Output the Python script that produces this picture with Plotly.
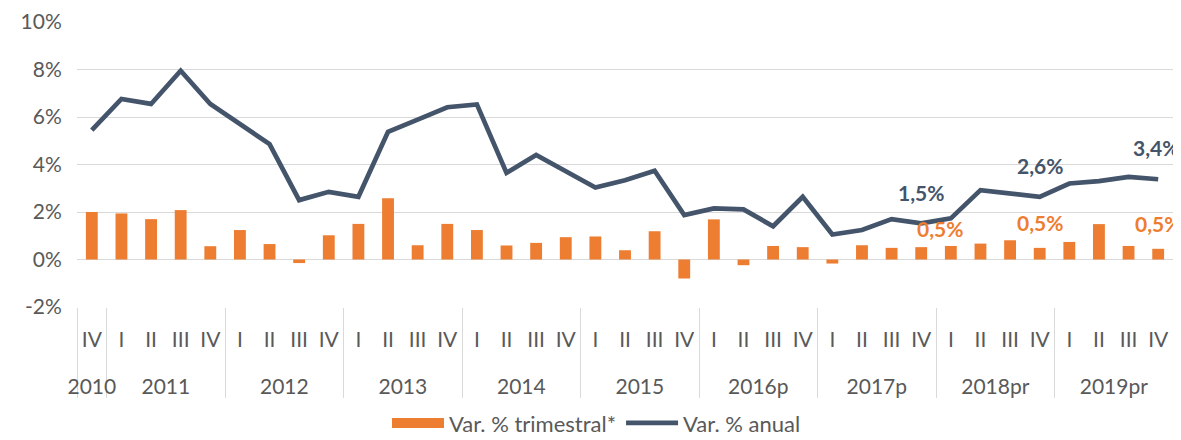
import plotly.graph_objects as go

years = ["2010"] + ["2011"] * 4 + ["2012"] * 4 + ["2013"] * 4 + ["2014"] * 4 + ["2015"] * 4 \
    + ["2016p"] * 4 + ["2017p"] * 4 + ["2018pr"] * 4 + ["2019pr"] * 4
quarters = ["IV"] + ["I", "II", "III", "IV"] * 9

var_trimestral = [2.00, 1.94, 1.70, 2.08, 0.56, 1.24, 0.65, -0.15, 1.02, 1.50,
                  2.58, 0.60, 1.50, 1.24, 0.59, 0.70, 0.94, 0.97, 0.39, 1.19,
                  -0.80, 1.69, -0.24, 0.57, 0.52, -0.17, 0.60, 0.49, 0.52, 0.57,
                  0.67, 0.81, 0.49, 0.74, 1.49, 0.57, 0.45]
var_anual = [5.45, 6.76, 6.55, 7.95, 6.55, 5.72, 4.86, 2.50, 2.85, 2.64,
             5.38, 5.89, 6.41, 6.53, 3.65, 4.40, 3.72, 3.03, 3.34, 3.74,
             1.87, 2.15, 2.11, 1.40, 2.64, 1.05, 1.24, 1.70, 1.52, 1.73,
             2.92, 2.78, 2.64, 3.20, 3.30, 3.48, 3.38]

label_idx = [28, 32, 36]
anual_labels = ["1,5%", "2,6%", "3,4%"]
trim_labels = ["0,5%", "0,5%", "0,5%"]

y_tickvals = [-2, 0, 2, 4, 6, 8, 10]
y_ticktext = ["-2%", "0%", "2%", "4%", "6%", "8%", "10%"]

ORANGE = "#ED7D31"
NAVY = "#44546A"
GRAY = "#595959"
GRID = "#D9D9D9"
FONT = "Lato"

n = len(quarters)
idx = list(range(n))

# year groups (centres and boundaries) derived from the category lists
year_names, year_centres, bounds = [], [], [-0.5]
start = 0
for i in range(1, n + 1):
    if i == n or years[i] != years[start]:
        year_names.append(years[start])
        year_centres.append((start + i - 1) / 2)
        bounds.append(i - 0.5)
        start = i

fig = go.Figure()
fig.add_trace(go.Bar(x=idx, y=var_trimestral, name="Var. % trimestral*",
                     marker=dict(color=ORANGE, line=dict(width=0)), showlegend=False))
# legend entry for bars drawn as a wide swatch
fig.add_trace(go.Scatter(x=[None], y=[None], mode="lines", name="Var. % trimestral*",
                         line=dict(color=ORANGE, width=13)))
fig.add_trace(go.Scatter(x=idx, y=var_anual, name="Var. % anual", mode="lines",
                         line=dict(color=NAVY, width=4.7)))

# data labels (label offsets in pixels)
anual_shift = [(0, 31), (0, 31), (-2, 32)]
trim_shift = [(19, 19), (0, 25), (0, 25)]
for k, i in enumerate(label_idx):
    fig.add_annotation(x=i, y=var_anual[i], text="<b>%s</b>" % anual_labels[k],
                       showarrow=False, xanchor="center", yanchor="middle",
                       xshift=anual_shift[k][0], yshift=anual_shift[k][1],
                       font=dict(family=FONT, size=21, color=NAVY))
    fig.add_annotation(x=i, y=var_trimestral[i], text="<b>%s</b>" % trim_labels[k],
                       showarrow=False, xanchor="center", yanchor="middle",
                       xshift=trim_shift[k][0], yshift=trim_shift[k][1],
                       font=dict(family=FONT, size=21, color=ORANGE))

rng = [-0.5, n - 0.5]
# the page body adds an 8px margin, so the figure is sized to fill the rest of the window
fig.update_layout(
    width=1173, height=432,
    margin=dict(l=69, r=8, t=14, b=133, autoexpand=False),
    paper_bgcolor="white", plot_bgcolor="white",
    font=dict(family=FONT, size=21, color=GRAY),
    bargap=0.6,
    showlegend=True,
    legend=dict(orientation="h", x=0.474, xanchor="center", y=-0.4075, yanchor="middle",
                font=dict(family=FONT, size=22, color=GRAY), traceorder="normal",
                itemwidth=52),
    xaxis=dict(range=rng, tickvals=idx, ticktext=quarters, showgrid=False, zeroline=False,
               ticks="outside", ticklen=14, tickcolor="rgba(0,0,0,0)", automargin=False,
               tickfont=dict(family=FONT, size=21, color=GRAY), fixedrange=True),
    xaxis2=dict(range=rng, overlaying="x", anchor="y", side="bottom", automargin=False,
                tickvals=bounds, ticktext=[""] * len(bounds), showgrid=False, zeroline=False,
                ticks="outside", ticklen=90, tickcolor=GRID, tickwidth=1, fixedrange=True),
    xaxis3=dict(range=rng, overlaying="x", anchor="y", side="bottom", automargin=False,
                tickvals=year_centres, ticktext=year_names, showgrid=False, zeroline=False,
                ticks="outside", ticklen=61, tickcolor="rgba(0,0,0,0)",
                tickfont=dict(family=FONT, size=21, color=GRAY), fixedrange=True),
    yaxis=dict(range=[-2, 10], tickvals=y_tickvals, ticktext=y_ticktext,
               showgrid=True, gridcolor=GRID, gridwidth=1, automargin=False,
               zeroline=True, zerolinecolor=GRID, zerolinewidth=1,
               ticks="outside", ticklen=10, tickcolor="rgba(0,0,0,0)",
               tickfont=dict(family=FONT, size=21, color=GRAY), fixedrange=True),
)
# invisible traces so the overlay axes are drawn
fig.add_trace(go.Scatter(x=[None], y=[None], xaxis="x2", showlegend=False, hoverinfo="skip"))
fig.add_trace(go.Scatter(x=[None], y=[None], xaxis="x3", showlegend=False, hoverinfo="skip"))

fig.write_html("out.html")
